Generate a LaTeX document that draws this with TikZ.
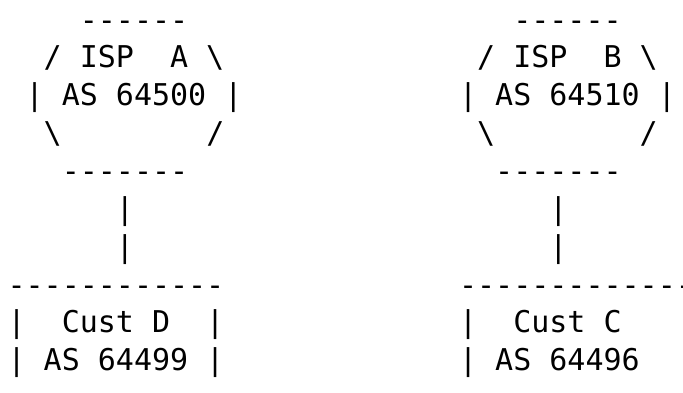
\documentclass[tikz,border=0pt]{standalone}
\usepackage{fontspec}
\setmonofont{DejaVu Sans Mono}
\tikzset{
  x=18.06pt, y=-37.86pt,
  ascii/.style={anchor=base west, inner sep=0pt, outer sep=0pt,
    font=\ttfamily\fontsize{30}{37.86}\selectfont},
}
\newcommand{\bs}{\textbackslash}
\begin{document}
\begin{tikzpicture}
			\useasboundingbox (-0.42,-0.795) rectangle (37.398,9.585);
			% ISP A
			\node[ascii] (ispAtop) at (4,0) {------};
			\node[ascii] (ispAname) at (2,1) {/ ISP~~A \bs};
			\node[ascii] (ispAas) at (1,2) {| AS 64500 |};
			\node[ascii] (ispAlow) at (2,3) {\bs~~~~~~~~/};
			\node[ascii] (ispAbot) at (3,4) {-------};
			% ISP B
			\node[ascii] (ispBtop) at (28,0) {------};
			\node[ascii] (ispBname) at (26,1) {/ ISP~~B \bs};
			\node[ascii] (ispBas) at (25,2) {| AS 64510 |};
			\node[ascii] (ispBlow) at (26,3) {\bs~~~~~~~~/};
			\node[ascii] (ispBbot) at (27,4) {-------};
			% links
			\node[ascii] (linkDa) at (6,5) {|};
			\node[ascii] (linkDb) at (6,6) {|};
			\node[ascii] (linkCa) at (30,5) {|};
			\node[ascii] (linkCb) at (30,6) {|};
			% Cust D
			\node[ascii] (custDtop) at (0,7) {------------};
			\node[ascii] (custDname) at (0,8) {|~~Cust D~~|};
			\node[ascii] (custDas) at (0,9) {| AS 64499 |};
			% Cust C
			\node[ascii] (custCtop) at (25,7) {-------------};
			\node[ascii] (custCname) at (25,8) {|~~Cust C~~~|};
			\node[ascii] (custCas) at (25,9) {| AS 64496~~|};
		\end{tikzpicture}
\end{document}
